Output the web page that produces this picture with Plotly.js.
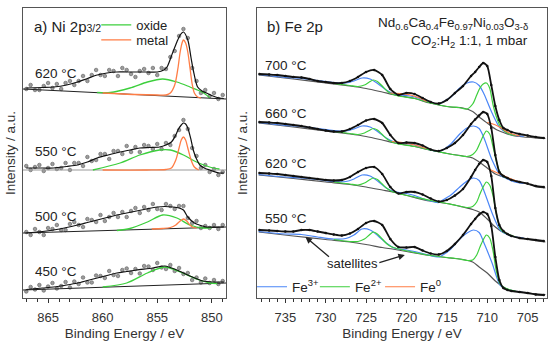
<!DOCTYPE html>
<html><head><meta charset="utf-8">
<script src="https://cdn.plot.ly/plotly-3.0.1.min.js"></script>
<style>html,body{margin:0;padding:0;background:#fff}#chart{width:550px;height:344px}</style>
</head><body><div id="chart"></div>
<script>
// ---------- Panel a: Ni 2p3/2 ----------
const niEnergy = [867.0,866.6,866.2,865.8,865.4,865.0,864.6,864.2,863.8,863.4,863.0,862.6,862.2,861.8,861.4,861.0,860.6,860.2,859.8,859.4,859.0,858.6,858.2,857.8,857.4,857.0,856.6,856.2,855.8,855.4,855.0,854.6,854.2,853.8,853.4,853.0,852.6,852.2,851.8,851.4,851.0,850.6,850.2,849.8,849.4,849.0];
const ni620 = [211,215,210,210,214,217,212,216,211,217,219,215,219,224,219,225,230,225,224,230,229,224,232,230,226,223,229,231,227,232,225,232,231,243,249,264,271,262,232,219,207,210,204,207,201,205];
const ni550 = [134,130,133,135,129,132,136,131,132,137,130,137,137,134,143,139,140,146,146,141,149,149,146,154,148,153,148,155,154,151,156,151,157,155,164,170,180,171,152,144,132,135,128,131,125,128];
const ni500 = [68,65,71,68,65,72,71,75,70,70,76,78,75,73,81,80,78,85,79,83,87,83,88,83,89,92,87,93,90,96,91,90,96,94,91,94,94,82,77,79,72,74,72,75,71,75];
const ni450 = [8.5,13,10.5,15,9.5,13.5,17,11.5,14,18,12.5,18.5,16,22.5,17.5,17.5,24.5,24,22,29,25,24,30,31.5,27,31,26.5,34,33.5,30,37,32.5,31,35,29,32,26,27,20,22.5,17.5,21.5,17,20,16,19];

const niFitE620 = [867.0,865.5,864.5,863.3,862.3,861.4,860.5,859.6,858.7,857.8,856.9,856.0,855.0,854.4,854.1,853.6,853.2,852.9,852.6,852.2,851.9,851.7,851.3,850.9,850.5,849.9,849.3,848.9];
const niFit620 = [212,212.5,213,215,218,221.5,225,227,228,228,228,228,228,230,233,247,258,265,268,260,242,230,213,209,207,204,202,201.5];
const niFitE550 = [867.0,865.5,864.5,863.3,862.3,861.4,860.5,859.5,858.4,857.5,856.6,855.7,854.8,854.2,853.7,853.3,853.1,852.8,852.6,852.4,852.2,851.9,851.7,851.4,851.1,850.6,850.2,849.3,848.9];
const niFit550 = [132,132,132,133.5,135,138,142,145,148,150,152,152.5,153,155,158,165,170,175,177,176,172,160,150,141,135,131.5,130,127,127];
const niFitE500 = [867.0,865.5,864.5,863.3,862.3,861.4,860.5,859.6,858.7,857.8,856.9,856.0,855.0,854.3,853.6,853.0,852.6,852.2,851.6,851.0,850.5,849.3,848.9];
const niFit500 = [67,68.5,70,72.5,75,77.5,80,82.5,85,87,89,91,93,93.5,93,92,90,83,77,74.5,73,73,73];
const niFitE450 = [867.0,865.5,864.5,863.3,862.3,861.4,860.5,859.6,858.7,857.8,856.9,855.4,854.3,853.2,852.0,850.8,849.9,849.3,848.9];
const niFit450 = [10.5,12,13,15,17,19.5,22,24.5,27,28.5,30,32,34,30,24,19,18,18,18];

const niBaseE = [867.3,848.7];
const niBase620 = [211,201];
const niBase550 = [130,130];
const niBase500 = [67,73];
const niBase450 = [10,17];

const oxideE620 = [860.5,859.3,857.5,855.9,854.5,853.2,852.0,850.9,850.2];
const oxide620 = [207.5,207.5,212,218,221,218,213,208,202.5];
const metalE620 = [860,857,855,854.2,853.8,853.4,853.1,852.9,852.7,852.6,852.4,852.2,852.0,851.8,851.6,851.3,851.0];
const metal620 = [207,205.5,205,205,207,215,232,248,258,260,257,248,232,216,207,203,202];
const oxideE550 = [860.9,858.4,856.6,854.8,853.8,852.6,851.4,850.2,849.3];
const oxide550 = [130,137,145,150,150,145,138,133,131];
const metalE550 = [860,856,854.2,853.7,853.3,853.0,852.8,852.6,852.4,852.2,851.9,851.6,851.2];
const metal550 = [130,130,130.5,132,140,152,160,163,160,152,140,133,130];
const oxideE500 = [858.7,857.5,855.9,854.5,853.2,852.0,850.8,850.0];
const oxide500 = [69.5,71.5,78,85,82,75,72,72.5];
const metalE500 = [855.5,854.5,853.8,853.3,853.0,852.6,852.3,852.0,851.7,851.4];
const metal500 = [71,71.5,72.5,75,78,81,79,75,72.5,72];
const oxideE450 = [860,857.8,855.9,854.3,852.9,851.4,850.2,849.5];
const oxide450 = [13,17,27,33,28,21,17,16.5];

const niTemps = ['620 °C','550 °C','500 °C','450 °C'];
const niTempY = [227,149,84,29];

// ---------- Panel b: Fe 2p ----------
const feEnergy = [738.2,737,736,735,734,733,732,731,730,729,728,727,726,725,724,723,722,721,720,719,718,717,716,715,714,713,712,711.5,711,710.5,710,709.5,709,708.5,708,707.5,707,706,705,704,703];
const fe700 = [226,225.5,225,224,223,222.5,221,219,218,217,217,219,223,228,230,225,211,205,207,206,202,198,196.5,200,207,214,224,228,233,237,234,215,194,180,172,170,168,166,164.5,163,162];
const fe660 = [178,177.5,177,176,175,174,172.5,171,169.5,168.5,168.5,171,175,179.5,181,177,165,157,157.5,157,154.5,150.5,149,152,157,165,176,180.5,184.5,188,186,172,145,128,124,122,120,118,116.5,114,113];
const fe620 = [127,126.5,126,125,124,123,122,121,120,119.5,120,123,128,132,133,126,113,106.5,108,108,105.5,101.5,98.5,100,104.5,111,123,130,136,140,138,124,92,75,69,66,64,62,61,60,59];
const fe550 = [70,69.5,69,68.5,68.5,70,70,68.5,67,65.5,64.5,66.5,71,77,79,75,61,53,52.5,53,49.5,46.5,45.5,49,56,65,76,81,85.5,88,86,74,43,20,12,10,9,8,7,5.5,5];

const feBaseE = [738.3,734,730,727,725,723,721.4,719,717.1,714.6,713,711.8,711,710,709,708,707,705.5,703.8,702.8];
const feBase700 = [225,221,217,214,211.5,208,205,201.5,197,193,192,188.5,183,177,171,167.5,164.8,163,162,161.5];
const feBase660 = [177,173,169,166,163.5,160,157,153.5,150,146,144,142,138,132,126,123,120.5,117,113,112];
const feBase620 = [125,121.5,118,115.5,113,110,107.5,102.5,99,96,93,90.5,88,81,73,67.5,64.5,61.5,59,58];
const feBase550 = [68,64,60.5,58,55.5,52.5,50.5,47,44.5,42,40.5,38,33,27,19,13,9.5,7.5,6,5.5];

const fe3E = [738.3,735,733,731,729,727.5,726.5,725.5,724.5,723.5,722.5,721.5,720,719,717.5,716,715.5,714.5,713.4,712.5,711.7,711,710.4,709.4,708.4,707.5,706.8,705.5];
const fe3_700 = [225.5,222.5,221.5,219.5,217.5,217,219,222,221,216,210,206,204.5,203,199,196,198,203,212,217,218,214.5,206,187,172,167,165,163.5];
const fe3_660 = [177.5,174.5,173.5,171.5,169.5,169,171,174,173,168,162,158,156.5,155,151,148.5,150,156,166,172,174,171.5,162,140,125,121,118.5,116.5];
const fe3_620 = [125.5,123,122,120.5,118.5,118.5,121,125,124,118.5,112,108.5,106.5,104.5,100,97.5,100,105,113,119,122,119.5,109,87,70,65.5,63.5,62];
const fe3_550 = [68.5,66,65.5,63,61,61.5,65,71,70,64,57,52,50,48.5,45.5,43,45,51,61,67,70,67.5,57,37,15,10.5,9,7.5];

const fe2E = [729,727,726,725.2,724.6,724.1,723.6,723,722.4,721.8,721,719,717,715,713.5,712.5,711.8,711.3,710.9,710.5,710.1,709.7,709.3,708.9,708.4,708,707.3,706.5];
const fe2_700 = [216.5,214.5,213.5,215,218,220,218.5,214,209,206,204,201.5,197,193.5,192.5,191,196,205,212,216,217,212,196,184,174,170,166,164.5];
const fe2_660 = [168.5,166.5,165.5,167,169.5,171.5,170,165.5,161,158,156,153.5,150,146.5,144.5,143.5,145.5,150,157,164,169,166,154,140,127,123.5,121.5,119];
const fe2_620 = [118,116,115,117,120,122,120.5,116,111.5,108.5,106.5,103,99.5,96.5,94,92.5,93.5,98,106,113,118,115,105,88,71.5,68,65.5,63];
const fe2_550 = [60.5,58.5,58.5,61,65,68,66,61,56,53,51,47.5,44.5,42.5,41,39.5,40,45,53,60,65,62,50,30,16,13,10.5,8.8];

const fe0E_700 = [722,720.5,719.5,718.5,717.5,null,710,709.3,708.6,708,707.4,706.7,706];
const fe0_700 = [207,206.3,205,202.5,198.5,null,177.5,176,173.5,170.5,167.5,165.5,164];
const fe0E_660 = [721.8,720.5,719,717.5,null,709.8,709,708.3,707.6,707,706.2];
const fe0_660 = [158.5,157.5,155,151.5,null,131,128,125.5,123,121,118.5];

const feTemps = ['700 °C','660 °C','620 °C','550 °C'];
const feTempY = [235,187,137,82];

// ---------- styles ----------
const GREEN = '#3ccf3c', ORANGE = '#ff7d45', BLUE = '#4a86f7';
const FONT = 'Liberation Sans, Arial, sans-serif';

function ln(x, y, color, width, xa, ya, extra) {
  return Object.assign({x: x, y: y, type: 'scatter', mode: 'lines', xaxis: xa, yaxis: ya,
    line: {color: color, width: width, shape: 'spline', smoothing: 0.8}, showlegend: false,
    hoverinfo: 'skip', connectgaps: false}, extra || {});
}
function pts(x, y) {
  return {x: x, y: y, type: 'scatter', mode: 'markers', xaxis: 'x', yaxis: 'y', showlegend: false,
    marker: {size: 3.6, color: 'rgba(140,140,140,0.85)', line: {color: '#5a5a5a', width: 0.6}}, hoverinfo: 'skip'};
}

const traces = [];
// Panel a
[ni620, ni550, ni500, ni450].forEach(d => traces.push(pts(niEnergy, d)));
traces.push(ln(niBaseE, niBase620, '#222', 1, 'x', 'y'));
traces.push(ln(niBaseE, niBase550, '#999', 1.2, 'x', 'y'));
traces.push(ln(niBaseE, niBase500, '#222', 1, 'x', 'y'));
traces.push(ln(niBaseE, niBase450, '#222', 1, 'x', 'y'));
traces.push(ln(oxideE620, oxide620, GREEN, 1.3, 'x', 'y', {name: 'oxide', showlegend: true, legend: 'legend'}));
traces.push(ln(oxideE550, oxide550, GREEN, 1.3, 'x', 'y'));
traces.push(ln(oxideE500, oxide500, GREEN, 1.3, 'x', 'y'));
traces.push(ln(oxideE450, oxide450, GREEN, 1.3, 'x', 'y'));
traces.push(ln(metalE620, metal620, ORANGE, 1.3, 'x', 'y', {name: 'metal', showlegend: true, legend: 'legend2'}));
traces.push(ln(metalE550, metal550, ORANGE, 1.3, 'x', 'y'));
traces.push(ln(metalE500, metal500, ORANGE, 1.3, 'x', 'y'));
traces.push(ln(niFitE620, niFit620, '#111', 1.2, 'x', 'y'));
traces.push(ln(niFitE550, niFit550, '#111', 1.2, 'x', 'y'));
traces.push(ln(niFitE500, niFit500, '#111', 1.2, 'x', 'y'));
traces.push(ln(niFitE450, niFit450, '#111', 1.2, 'x', 'y'));

// Panel b
const feSets = [
  [feBase700, fe3_700, fe2_700, fe700],
  [feBase660, fe3_660, fe2_660, fe660],
  [feBase620, fe3_620, fe2_620, fe620],
  [feBase550, fe3_550, fe2_550, fe550]
];
feSets.forEach((s, i) => {
  traces.push(ln(feBaseE, s[0], '#555', 1.2, 'x2', 'y2'));
  traces.push(ln(fe3E, s[1], BLUE, 1.2, 'x2', 'y2', i === 0 ? {name: 'Fe<sup>3+</sup>', showlegend: true, legend: 'legend3'} : {}));
  traces.push(ln(fe2E, s[2], GREEN, 1.2, 'x2', 'y2', i === 0 ? {name: 'Fe<sup>2+</sup>', showlegend: true, legend: 'legend4'} : {}));
  if (i === 0) traces.push(ln(fe0E_700, fe0_700, ORANGE, 1.2, 'x2', 'y2', {name: 'Fe<sup>0</sup>', showlegend: true, legend: 'legend5'}));
  if (i === 1) traces.push(ln(fe0E_660, fe0_660, ORANGE, 1.2, 'x2', 'y2'));
});
feSets.forEach(s => {
  traces.push({x: feEnergy, y: s[3], type: 'scatter', mode: 'lines+markers', xaxis: 'x2', yaxis: 'y2',
    line: {color: '#111', width: 1.8, shape: 'spline', smoothing: 0.6}, marker: {size: 2.5, color: '#111'},
    showlegend: false, hoverinfo: 'skip'});
});

const annotations = [];
annotations.push({xref: 'x', yref: 'y', x: 866.46, y: 274, xanchor: 'left', yanchor: 'middle', showarrow: false,
  text: 'a) Ni 2p<span style="font-size:10.5px">3/2</span>', font: {size: 15, family: FONT, color: '#222'}});
niTemps.forEach((t, i) => annotations.push({xref: 'x', yref: 'y', x: 866.37, y: niTempY[i], xanchor: 'left', yanchor: 'middle',
  showarrow: false, text: t, font: {size: 13.5, family: FONT, color: '#222'}}));
annotations.push({xref: 'x2', yref: 'y2', x: 737.5, y: 274, xanchor: 'left', yanchor: 'middle', showarrow: false,
  text: 'b) Fe 2p', font: {size: 15, family: FONT, color: '#222'}});
annotations.push({xref: 'x2', yref: 'y2', x: 704.7, y: 277, xanchor: 'right', yanchor: 'middle', showarrow: false,
  text: 'Nd<sub>0.6</sub>Ca<sub>0.4</sub>Fe<sub>0.97</sub>Ni<sub>0.03</sub>O<sub>3-δ</sub>', font: {size: 13.5, family: FONT, color: '#222'}});
annotations.push({xref: 'x2', yref: 'y2', x: 704.7, y: 259, xanchor: 'right', yanchor: 'middle', showarrow: false,
  text: 'CO<sub>2</sub>:H<sub>2</sub> 1:1, 1 mbar', font: {size: 13.5, family: FONT, color: '#222'}});
feTemps.forEach((t, i) => annotations.push({xref: 'x2', yref: 'y2', x: 737.7, y: feTempY[i], xanchor: 'left', yanchor: 'middle',
  showarrow: false, text: t, font: {size: 13.5, family: FONT, color: '#222'}}));
annotations.push({xref: 'x2', yref: 'y2', x: 726.7, y: 37, showarrow: false, text: 'satellites',
  font: {size: 13, family: FONT, color: '#222'}});
annotations.push({xref: 'x2', yref: 'y2', x: 732.5, y: 63, ax: 25, ay: 21, text: '', showarrow: true,
  arrowhead: 2, arrowsize: 1, arrowwidth: 1.3, arrowcolor: '#222'});
annotations.push({xref: 'x2', yref: 'y2', x: 720.2, y: 45, ax: -27, ay: 8, text: '', showarrow: true,
  arrowhead: 2, arrowsize: 1, arrowwidth: 1.3, arrowcolor: '#222'});
// vertical axis titles
annotations.push({xref: 'paper', yref: 'paper', x: -0.0248, y: 0.5, xanchor: 'center', yanchor: 'middle', textangle: -90, showarrow: false,
  text: 'Intensity / a.u.', font: {size: 13.5, family: FONT, color: '#333'}});
annotations.push({xref: 'paper', yref: 'paper', x: 0.418, y: 0.5, xanchor: 'center', yanchor: 'middle', textangle: -90, showarrow: false,
  text: 'Intensity / a.u.', font: {size: 13.5, family: FONT, color: '#333'}});

function xax(domain, range, anchor) {
  return {domain: domain, range: range, anchor: anchor, showline: true, mirror: true, linecolor: '#555', linewidth: 1,
    ticks: 'outside', ticklen: 4, tickwidth: 1, tickcolor: '#333', dtick: 5, tick0: 700, ticklabelstandoff: 3,
    minor: {dtick: 1, ticks: 'outside', ticklen: 2.5, tickwidth: 1, tickcolor: '#333'},
    showgrid: false, zeroline: false, automargin: false,
    tickfont: {size: 13, family: FONT, color: '#333'},
    title: {text: 'Binding Energy / eV', font: {size: 13.5, family: FONT, color: '#333'}, standoff: 4}};
}
function yax(anchor) {
  return {domain: [0, 1], range: [2, 292], anchor: anchor, showline: true, mirror: true, linecolor: '#555', linewidth: 1,
    showticklabels: false, ticks: '', showgrid: false, zeroline: false, automargin: false};
}
function leg(x, y, size) {
  return {xref: 'container', yref: 'container', x: x, y: y, xanchor: 'left', yanchor: 'middle',
    bgcolor: 'rgba(0,0,0,0)', borderwidth: 0, font: {size: size, family: FONT, color: '#222'}, itemwidth: 30};
}

const layout = {
  width: 550, height: 344,
  margin: {l: 23, r: 3, t: 8, b: 46, autoexpand: false},
  paper_bgcolor: '#fff', plot_bgcolor: '#fff',
  font: {family: FONT, color: '#222'},
  xaxis: xax([0, 0.3874], [867.3, 848.7], 'y'),
  yaxis: yax('x'),
  xaxis2: xax([0.4466, 1], [738.5, 702.6], 'y2'),
  yaxis2: yax('x2'),
  legend: leg(0.175, 0.9273, 13),
  legend2: leg(0.175, 0.8837, 13),
  legend3: leg(0.4582, 0.1657, 13.5),
  legend4: leg(0.5725, 0.1657, 13.5),
  legend5: leg(0.691, 0.1657, 13.5),
  annotations: annotations
};

Plotly.newPlot('chart', traces, layout, {displayModeBar: false, staticPlot: true});
</script></body></html>
